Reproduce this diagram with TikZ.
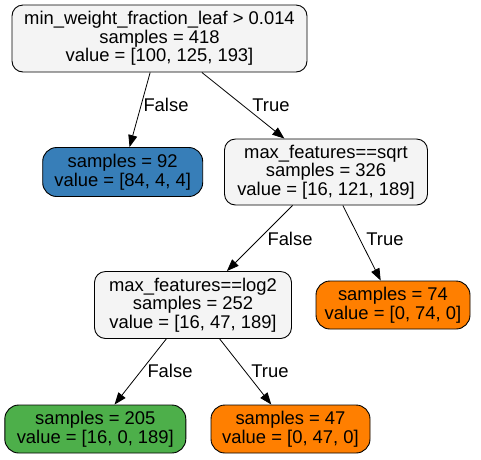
\documentclass[tikz,border=0pt]{standalone}
\usepackage{fontspec}
\setmainfont{Liberation Sans}
\usetikzlibrary{arrows.meta}
\definecolor{nodegrey}{HTML}{F4F4F4}
\definecolor{setblue}{HTML}{377EB8}
\definecolor{setgreen}{HTML}{4DAF4A}
\definecolor{setorange}{HTML}{FF7F00}
\begin{document}
\begin{tikzpicture}[x=1pt,y=-1pt,
  box/.style={draw=black, line width=0.9pt, rounded corners=11pt, align=center, inner sep=0pt,
    font=\fontsize{18.4}{18.7}\selectfont},
  split/.style={box, fill=nodegrey},
  leaf/.style={box, rounded corners=14pt},
  edge/.style={draw=black, line width=0.8pt, -{Triangle[length=12pt,width=9pt]}},
  lbl/.style={inner sep=0pt, font=\fontsize{18.4}{18.7}\selectfont}]
\useasboundingbox (0,0) rectangle (481,459);
\fill[white] (0,0) rectangle (481,459);
\node[split, minimum width=295pt, minimum height=67pt] (root) at (159.5,38.5)
  {min\_weight\_fraction\_leaf > 0.014\\samples = 418\\value = [100, 125, 193]};
\node[leaf, fill=setblue, minimum width=160pt, minimum height=49pt] (blue) at (122.7,172)
  {samples = 92\\value = [84, 4, 4]};
\node[split, minimum width=203pt, minimum height=66pt] (sqrt) at (326,172)
  {max\_features==sqrt\\samples = 326\\value = [16, 121, 189]};
\node[split, minimum width=197pt, minimum height=67pt] (log) at (193,305)
  {max\_features==log2\\samples = 252\\value = [16, 47, 189]};
\node[leaf, fill=setorange, minimum width=154pt, minimum height=48pt] (o74) at (393,305)
  {samples = 74\\value = [0, 74, 0]};
\node[leaf, fill=setgreen, minimum width=181pt, minimum height=48pt] (green) at (95.3,429)
  {samples = 205\\value = [16, 0, 189]};
\node[leaf, fill=setorange, minimum width=159pt, minimum height=48pt] (o47) at (290.5,429)
  {samples = 47\\value = [0, 47, 0]};
\draw[edge] (root) -- (blue);
\draw[edge] (root) -- (sqrt);
\draw[edge] (sqrt) -- (log);
\draw[edge] (sqrt) -- (o74);
\draw[edge] (log) -- (green);
\draw[edge] (log) -- (o47);
\node[lbl] (f1) at (166,105) {False};
\node[lbl] (t1) at (271,105) {True};
\node[lbl] (f2) at (290,239) {False};
\node[lbl] (t2) at (385,239) {True};
\node[lbl] (f3) at (170,371) {False};
\node[lbl] (t3) at (270,371) {True};
\end{tikzpicture}
\end{document}
